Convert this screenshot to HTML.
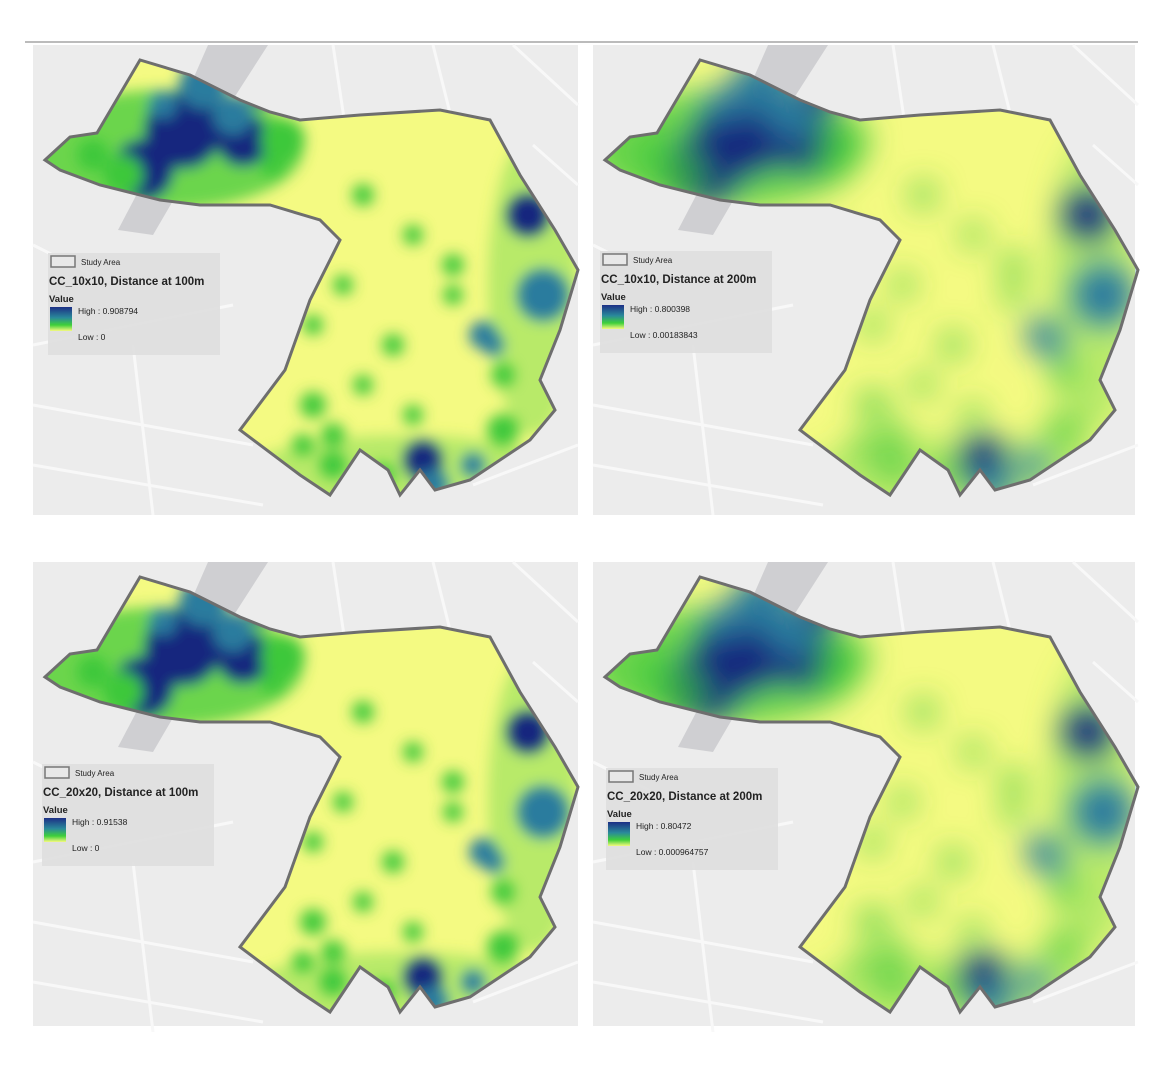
<!DOCTYPE html>
<html><head><meta charset="utf-8"><style>
body{margin:0;background:#fff;width:1166px;height:1080px;overflow:hidden;font-family:"Liberation Sans",sans-serif}
svg{position:absolute;left:0;top:0}
</style></head><body>
<svg id="s" width="1166" height="1080">
<defs>
<filter id="b1" x="-50%" y="-50%" width="200%" height="200%"><feGaussianBlur stdDeviation="7"/></filter>
<filter id="b2" x="-50%" y="-50%" width="200%" height="200%"><feGaussianBlur stdDeviation="15"/></filter>
<linearGradient id="lg" x1="0" y1="0" x2="0" y2="1"><stop offset="0" stop-color="#1c2f86"/><stop offset="0.45" stop-color="#2a8a9a"/><stop offset="0.75" stop-color="#3fd03a"/><stop offset="1" stop-color="#f4fa80"/></linearGradient>
</defs>
<line x1="25" y1="42" x2="1138" y2="42" stroke="#bbb" stroke-width="2"/>
</svg>
<script>
const panels=[
 {x:33,y:45,w:545,h:470,title:"CC_10x10, Distance at 100m",high:"High : 0.908794",low:"Low : 0",smooth:false,lx:48,ly:253},
 {x:593,y:45,w:542,h:470,title:"CC_10x10, Distance at 200m",high:"High : 0.800398",low:"Low : 0.00183843",smooth:true,lx:600,ly:251},
 {x:33,y:562,w:545,h:464,title:"CC_20x20, Distance at 100m",high:"High : 0.91538",low:"Low : 0",smooth:false,lx:42,ly:764},
 {x:593,y:562,w:542,h:464,title:"CC_20x20, Distance at 200m",high:"High : 0.80472",low:"Low : 0.000964757",smooth:true,lx:606,ly:768}
];
const outline=[[12,115],[37,92],[64,88],[107,15],[157,30],[207,55],[237,67],[267,75],[327,70],[407,65],[457,75],[487,130],[522,185],[545,225],[527,285],[507,335],[522,365],[497,395],[437,435],[402,445],[387,425],[367,450],[355,425],[327,405],[297,450],[267,430],[207,385],[252,325],[277,255],[307,195],[287,175],[237,160],[167,160],[127,155],[67,140],[27,125]];
const blobX=[150,110,170,210,90,60,250,495,510,390,470,300,360,280,450,420,330,240,380,470,310,250,200,400,350,300,230,130,460,330,280,420,380,270,440];
const blobY=[85,125,40,95,130,110,95,170,250,415,385,420,300,360,290,220,150,120,190,330,240,200,70,440,430,390,45,60,300,340,280,250,370,400,420];
const blobR=[38,30,24,26,20,16,22,22,26,20,16,14,11,13,14,11,11,13,10,12,10,11,20,16,12,12,16,14,11,10,10,10,10,11,12];
const blobC=[0,0,1,0,2,2,2,0,1,0,2,2,2,2,1,2,2,2,2,2,2,2,1,1,2,2,0,1,1,2,2,2,2,2,1];
const cols=["#16287e","#2a7c9e","#3ec83a"];
const S=document.getElementById('s');const NS="http://www.w3.org/2000/svg";
function el(t,a,p){const e=document.createElementNS(NS,t);for(const k in a)e.setAttribute(k,a[k]);(p||S).appendChild(e);return e;}
panels.forEach((p,i)=>{
 const g=el('g',{transform:`translate(${p.x},${p.y})`});
 
 
 el('rect',{x:0,y:0,width:p.w,height:p.h,fill:"#ececec"},g);
 const roads=[[0,300,200,260],[0,360,220,400],[0,420,230,460],[300,0,330,200],[400,0,420,80],[480,0,545,60],[0,200,60,230],[440,440,545,400],[100,300,120,470],[500,100,545,140]];
 roads.forEach(r=>{const l=el('line',{x1:r[0],y1:r[1],x2:r[2],y2:r[3],stroke:"#f8f8f8","stroke-width":3},g);});
 const rv=el('polygon',{points:"175,0 235,0 190,70 120,190 85,185 140,80",fill:"#cfcfd2"},g);
 
 const pts=outline.map(q=>q.join(',')).join(' ');
 const cp=el('clipPath',{id:'cp'+i},g);el('polygon',{points:pts},cp);
 const f=el('g',{'clip-path':`url(#cp${i})`},g);
 
 el('rect',{x:0,y:0,width:p.w,height:p.h,fill:"#f4fa82"},f);
 const bg=el('g',{filter:p.smooth?'url(#b2)':'url(#b1)'},f);
 el('ellipse',{cx:130,cy:105,rx:140,ry:60,fill:"#3ec83a",opacity:0.75},bg);
 el('ellipse',{cx:500,cy:240,rx:45,ry:150,fill:"#6ed64a",opacity:0.45},bg);
 el('ellipse',{cx:370,cy:430,rx:160,ry:40,fill:"#6ed64a",opacity:0.45},bg);
 for(let k=0;k<blobX.length;k++){
  const c=el('circle',{cx:blobX[k],cy:blobY[k],r:blobR[k]*(p.smooth?1.25:1),fill:cols[blobC[k]],opacity:p.smooth&&blobC[k]==2?0.7:1},bg);
  
  
 }
 const o=el('polygon',{points:pts,fill:"none",stroke:"#6e6e6e","stroke-width":3},g);
 
 const L=el('g',{transform:`translate(${p.lx},${p.ly})`});
 
 el('rect',{x:0,y:0,width:172,height:102,fill:"#dedede",opacity:0.92},L);
 el('rect',{x:3,y:3,width:24,height:11,fill:"#e8e8e8",stroke:"#777","stroke-width":1.5},L);
 const t=(x,y,s,sz,b)=>{const e=el('text',{x:x,y:y,'font-size':sz,fill:"#222",'font-weight':b?'bold':'normal'},L);e.textContent=s;return e;};
 t(33,12,"Study Area",8);
 t(1,32,p.title,11.5,true);
 t(1,49,"Value",9.5,true);
 el('rect',{x:2,y:54,width:22,height:24,fill:"url(#lg)"},L);
 t(30,61,p.high,8.5);
 t(30,87,p.low,8.5);
});
</script>
</body></html>
